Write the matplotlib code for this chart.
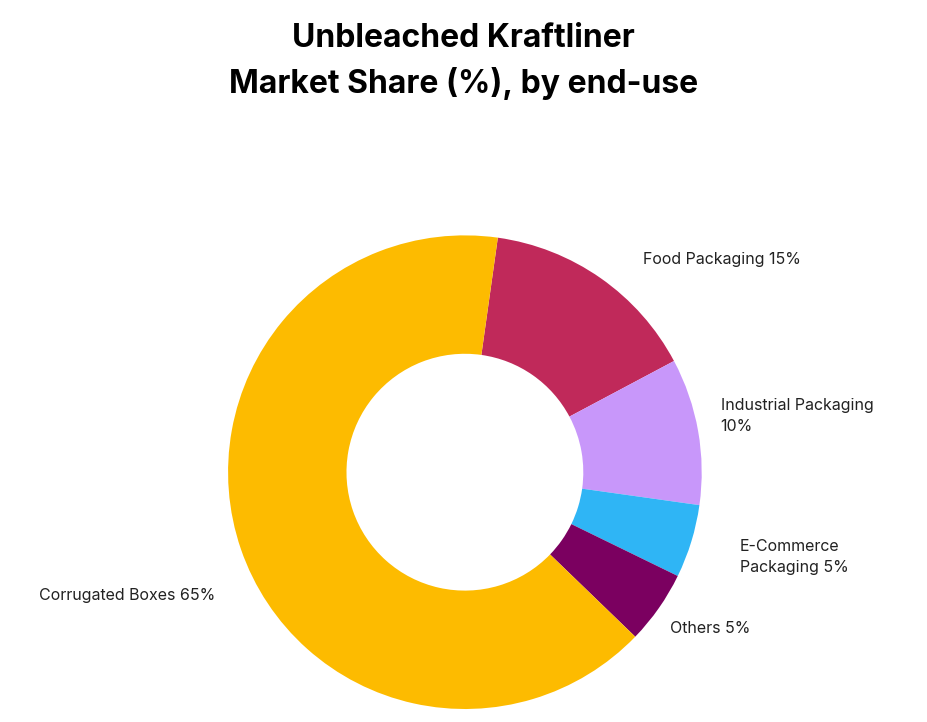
import matplotlib
matplotlib.use("Agg")
import matplotlib.pyplot as plt

categories = ["Food Packaging", "Industrial Packaging", "E-Commerce Packaging", "Others", "Corrugated Boxes"]
values = [15, 10, 5, 5, 65]
label_texts = ["Food Packaging 15%", "Industrial Packaging\n10%", "E-Commerce\nPackaging 5%", "Others 5%", "Corrugated Boxes 65%"]
colors = ["#C0295A", "#C897FA", "#2FB5F5", "#7B0060", "#FDBB00"]

plt.rcParams['font.family'] = ['Inter', 'DejaVu Sans']
fig = plt.figure(figsize=(9.27, 7.22), dpi=100)
ax = fig.add_axes([0.246, 0.018, 0.511, 0.656])
ax.pie(values, colors=colors, startangle=82, counterclock=False,
       wedgeprops=dict(width=0.5, linewidth=0))
ax.set_xlim(-1, 1); ax.set_ylim(-1, 1); ax.set_aspect('equal')
ax.axis('off')

pos = [(0.75, 0.90, 'left'), (1.08, 0.236, 'left'), (1.16, -0.36, 'left'),
       (0.865, -0.66, 'left'), (-1.055, -0.52, 'right')]
for t, (x, y, ha) in zip(label_texts, pos):
    ax.text(x, y, t, ha=ha, va='center', fontsize=11.5, color='#222222', clip_on=False, linespacing=1.5)

fig.text(0.5, 0.947, "Unbleached Kraftliner", ha='center', va='center', fontsize=23, fontweight='bold')
fig.text(0.5, 0.884, "Market Share (%), by end-use", ha='center', va='center', fontsize=23, fontweight='bold')
fig.savefig("out.png", dpi=100, facecolor='white')
